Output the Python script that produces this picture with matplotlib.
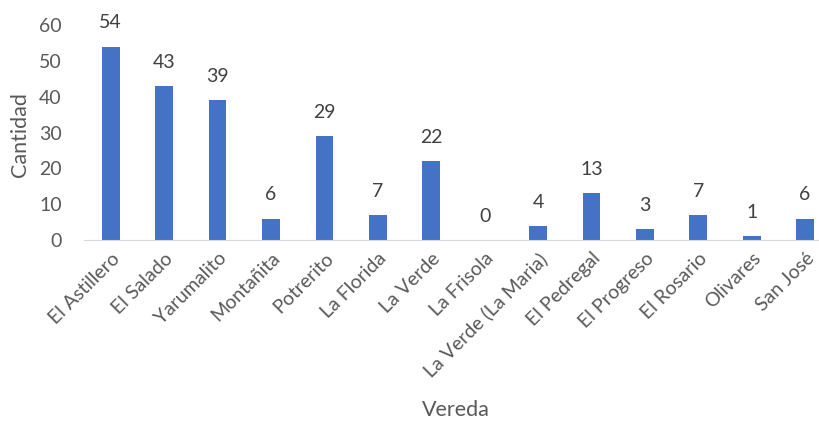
import matplotlib
matplotlib.use('Agg')
import matplotlib.pyplot as plt
import numpy as np

# --- Data ---
veredas = ['El Astillero', 'El Salado', 'Yarumalito', 'Montañita', 'Potrerito',
           'La Florida', 'La Verde', 'La Frisola', 'La Verde (La Maria)',
           'El Pedregal', 'El Progreso', 'El Rosario', 'Olivares', 'San José']
cantidad = [54, 43, 39, 6, 29, 7, 22, 0, 4, 13, 3, 7, 1, 6]
y_ticks = [0, 10, 20, 30, 40, 50, 60]

BAR_COLOR = '#4472C4'
TEXT_COLOR = '#595959'

plt.rcParams['font.family'] = ['Lato', 'DejaVu Sans']

fig = plt.figure(figsize=(8.19, 4.30), dpi=100)
ax = fig.add_axes([84 / 819, 190 / 430, 735 / 819, 215 / 430])

x = np.arange(len(veredas))
bars = ax.bar(x, cantidad, width=0.33, color=BAR_COLOR, zorder=2)

# value labels above bars
for xi, v in zip(x, cantidad):
    ax.text(xi, v + 4.2, str(v), ha='center', va='bottom',
            fontsize=14, color='#404040')

ax.set_xlim(-0.5, 13.26)
ax.set_ylim(0, 60)
ax.set_yticks(y_ticks)
ax.set_xticks(x)
ax.set_xticklabels(veredas, rotation=45, ha='right', va='top',
                   rotation_mode='anchor', fontsize=14, color=TEXT_COLOR)
ax.tick_params(axis='y', labelsize=14, labelcolor=TEXT_COLOR, length=0, pad=16)
ax.tick_params(axis='x', length=0, pad=7)

for side in ['top', 'right', 'left']:
    ax.spines[side].set_visible(False)
ax.spines['bottom'].set_color('#D9D9D9')

fig.text(20 / 819, 1 - 135 / 430, 'Cantidad', rotation=90, ha='center',
         va='center', fontsize=15.5, color=TEXT_COLOR)
fig.text(456 / 819, 1 - 410 / 430, 'Vereda', ha='center', va='center',
         fontsize=15.5, color=TEXT_COLOR)

fig.savefig('out.png', dpi=100)
